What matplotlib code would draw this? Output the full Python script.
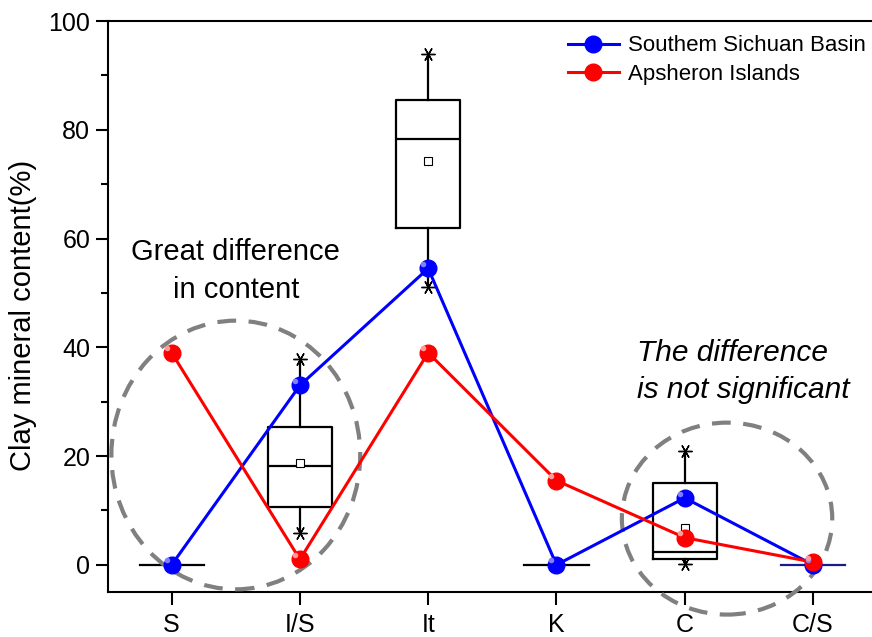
import numpy as np
import matplotlib
matplotlib.use('Agg')
import matplotlib.pyplot as plt
from matplotlib.patches import Ellipse
from matplotlib.ticker import MultipleLocator

plt.rcParams['font.family'] = ['Liberation Sans', 'DejaVu Sans']

categories = ['S', 'I/S', 'It', 'K', 'C', 'C/S']
sichuan = [0, 33, 54.5, 0, 12.3, 0]
apsheron = [39, 1, 39, 15.5, 5, 0.5]

# box statistics: min, q1, median, q3, max, mean
box_min = [0, 5.9, 51, 0, 0.2, 0]
box_q1 = [0, 10.7, 62, 0, 1.1, 0]
box_med = [0, 18.2, 78.3, 0, 2.4, 0]
box_q3 = [0, 25.4, 85.5, 0, 15.1, 0]
box_max = [0, 37.9, 94, 0, 21, 0]
box_mean = [0, 18.7, 74.3, 0, 6.8, 0]

fig = plt.figure(figsize=(8.72, 6.37), dpi=100)
ax = fig.add_axes([0.1233, 0.0706, 0.8767, 0.8964])

x = np.arange(len(categories))

stats = []
for i in range(len(categories)):
    stats.append(dict(whislo=box_min[i], q1=box_q1[i], med=box_med[i],
                      q3=box_q3[i], whishi=box_max[i], mean=box_mean[i]))

has_box = [s['whishi'] > s['whislo'] for s in stats]
ax.bxp([s for s, h in zip(stats, has_box) if h], positions=x[has_box],
       widths=0.5, showmeans=True, showcaps=False, showfliers=False,
       boxprops=dict(color='black', lw=1.6),
       whiskerprops=dict(color='black', lw=1.6),
       medianprops=dict(color='black', lw=1.6),
       meanprops=dict(marker='s', markersize=6, markerfacecolor='white',
                      markeredgecolor='black', markeredgewidth=0.8),
       manage_ticks=False, zorder=2)
# flat boxes (all values zero)
for i in x[[not h for h in has_box]]:
    col = '#1a1a8c' if categories[i] == 'C/S' else 'black'
    ax.plot([i - 0.25, i + 0.25], [box_med[i]] * 2, color=col, lw=1.6, zorder=2)
# min / max asterisks
for i in x[has_box]:
    ax.plot([i, i], [box_min[i], box_max[i]], ls='none', marker=(6, 2, 90),
            markersize=10, color='black', mew=1.0, zorder=2)

ax.plot(x, sichuan, '-o', color='blue', lw=2.2, markersize=12,
        markeredgecolor='blue', label='Southem Sichuan Basin', zorder=4)
ax.plot(x, apsheron, '-o', color='red', lw=2.2, markersize=12,
        markeredgecolor='red', label='Apsheron Islands', zorder=4)
# highlight on the balls
for vals, hl in [(sichuan, '#8080ff'), (apsheron, '#ff9a9a')]:
    ax.plot(x - 0.04, np.array(vals) + 0.8, ls='none', marker='o',
            markersize=4, color=hl, mew=0, zorder=5)

# dashed ellipses
ax.add_patch(Ellipse((0.5, 20.2), 1.94, 49.4, fill=False, ls=(0, (4.5, 3)),
                     lw=3, edgecolor='#808080', clip_on=False, zorder=3))
ax.add_patch(Ellipse((4.33, 8.5), 1.64, 35.3, fill=False, ls=(0, (4.5, 3)),
                     lw=3, edgecolor='#808080', clip_on=False, zorder=3))

ax.text(0.5, 54, 'Great difference\nin content', ha='center', va='center',
        fontsize=21, linespacing=1.45)
ax.text(3.63, 35.5, 'The difference\nis not significant', ha='left',
        va='center', fontsize=21.5, style='italic', linespacing=1.4)

ax.set_xlim(-0.5, 5.46)
ax.set_ylim(-5, 100)
ax.set_xticks(x)
ax.set_xticklabels(categories)
ax.yaxis.set_major_locator(MultipleLocator(20))
ax.yaxis.set_minor_locator(MultipleLocator(10))
ax.tick_params(axis='both', which='major', direction='out', length=9,
               width=1.5, labelsize=18)
ax.tick_params(axis='y', which='minor', direction='out', length=5, width=1.5)
ax.tick_params(axis='x', pad=6)
ax.spines['right'].set_visible(False)
for s in ['left', 'top', 'bottom']:
    ax.spines[s].set_linewidth(1.5)
ax.set_ylabel('Clay mineral content(%)', fontsize=21)
ax.yaxis.set_label_coords(-0.092, 0.485)

ax.legend(loc='upper left', bbox_to_anchor=(0.602, 0.975), frameon=False,
          fontsize=16, handlelength=2.3, borderaxespad=0, borderpad=0,
          labelspacing=0.35, handletextpad=0.4)

fig.savefig('out.png', dpi=100)
